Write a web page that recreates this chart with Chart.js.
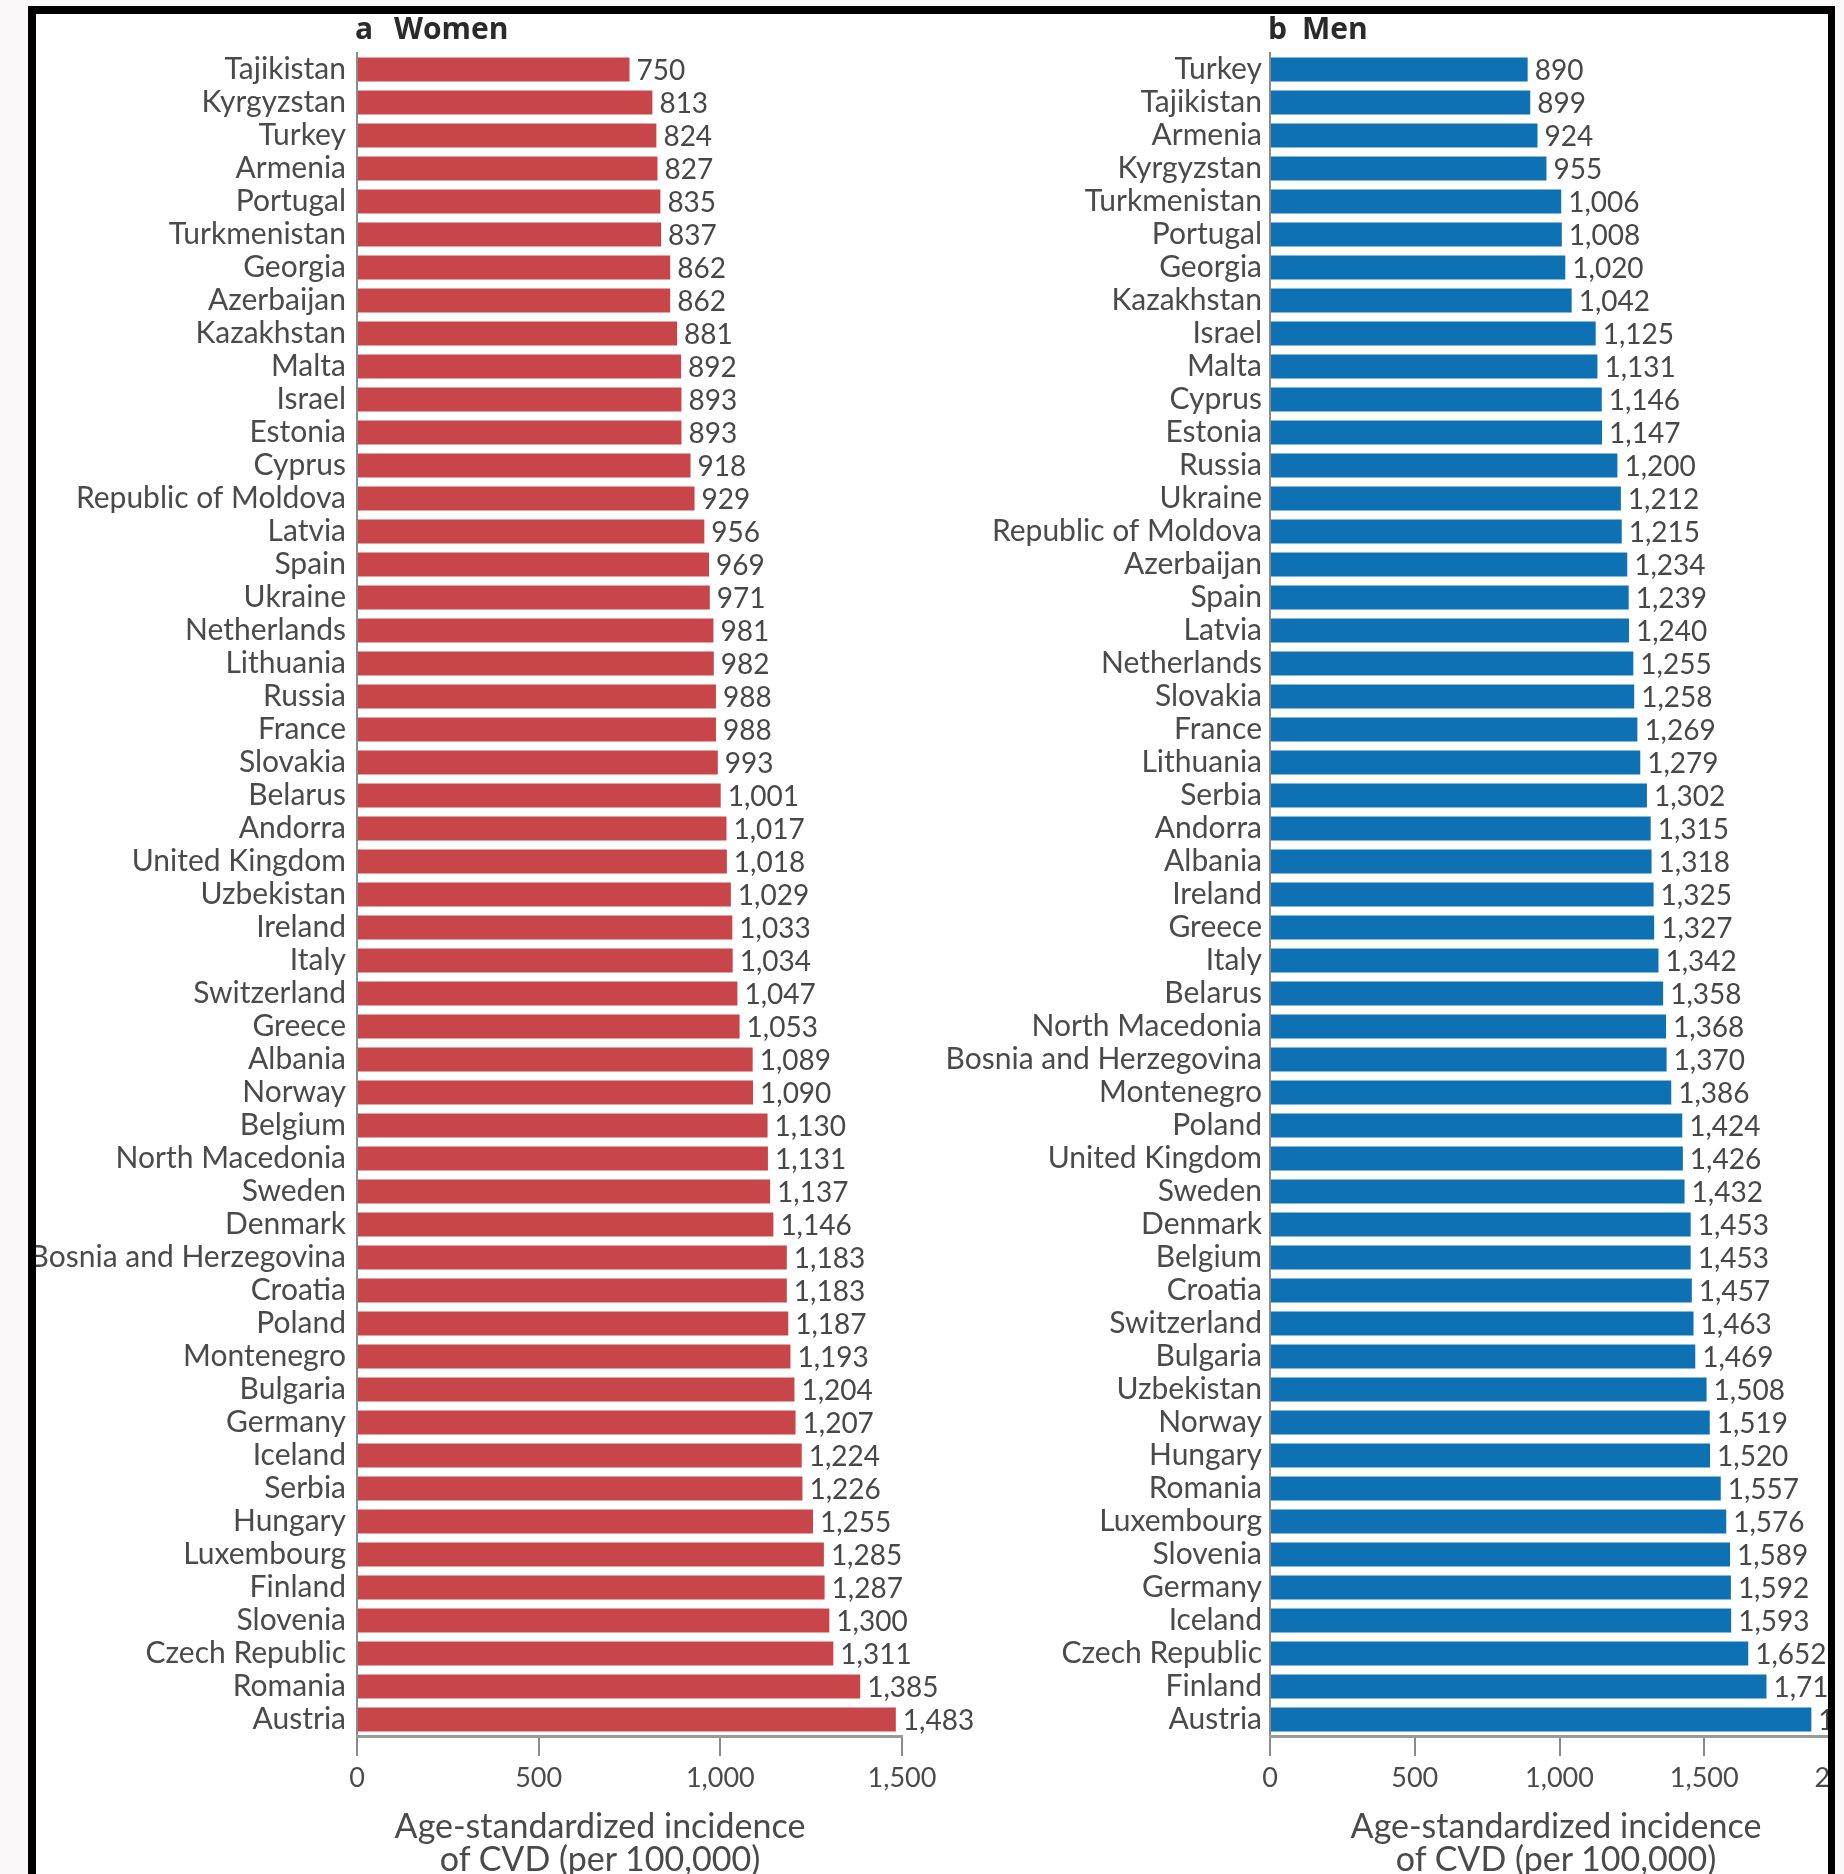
<!DOCTYPE html>
<html><head><meta charset="utf-8">
<script src="https://cdn.jsdelivr.net/npm/chart.js@4.4.1/dist/chart.umd.min.js"></script>
<style>
html,body{margin:0;padding:0;width:1844px;height:1874px;overflow:hidden;background:#fff;}
#wrap{position:relative;width:1844px;height:1874px;overflow:hidden;background:#fff;}
.cbox{position:absolute;top:0;height:1874px;}
.cbox canvas{display:block;}
.mask{position:absolute;background:#fbf8f9;z-index:5}
.fline{position:absolute;background:#000;z-index:6}
.ptitle{position:absolute;font-family:'Open Sans',sans-serif;font-weight:700;font-size:30px;color:#2a2a2a;z-index:4;white-space:pre;line-height:30px;top:13px}
.atitle{position:absolute;font-family:Lato,sans-serif;font-size:34px;color:#4a4a4a;text-align:center;line-height:33px;z-index:4;white-space:nowrap;width:600px;top:1808px}
</style></head>
<body>
<div id="wrap">
  <div class="cbox" style="left:0;width:1040px"><canvas id="cw" width="1040" height="1874"></canvas></div>
  <div class="cbox" style="left:900px;width:1000px"><canvas id="cm" width="1000" height="1874"></canvas></div>
  <div class="ptitle" style="left:355px">a</div>
  <div class="ptitle" style="left:394px">Women</div>
  <div class="ptitle" style="left:1268px">b</div>
  <div class="ptitle" style="left:1302px">Men</div>
  <div class="atitle" style="left:300px">Age-standardized incidence<br>of CVD (per 100,000)</div>
  <div class="atitle" style="left:1256px">Age-standardized incidence<br>of CVD (per 100,000)</div>
  <div class="mask" style="left:0;top:0;width:1844px;height:6px"></div>
  <div class="mask" style="left:0;top:0;width:28px;height:1874px"></div>
  <div class="mask" style="left:1835px;top:0;width:9px;height:1874px"></div>
  <div class="fline" style="left:28px;top:6px;width:1807px;height:8px"></div>
  <div class="fline" style="left:28px;top:6px;width:8px;height:1868px"></div>
  <div class="fline" style="left:1828px;top:6px;width:7px;height:1868px"></div>
</div>
<script>
const womenCountries = ["Tajikistan","Kyrgyzstan","Turkey","Armenia","Portugal","Turkmenistan","Georgia","Azerbaijan","Kazakhstan","Malta","Israel","Estonia","Cyprus","Republic of Moldova","Latvia","Spain","Ukraine","Netherlands","Lithuania","Russia","France","Slovakia","Belarus","Andorra","United Kingdom","Uzbekistan","Ireland","Italy","Switzerland","Greece","Albania","Norway","Belgium","North Macedonia","Sweden","Denmark","Bosnia and Herzegovina","Croatia","Poland","Montenegro","Bulgaria","Germany","Iceland","Serbia","Hungary","Luxembourg","Finland","Slovenia","Czech Republic","Romania","Austria"];
const womenValues = [750,813,824,827,835,837,862,862,881,892,893,893,918,929,956,969,971,981,982,988,988,993,1001,1017,1018,1029,1033,1034,1047,1053,1089,1090,1130,1131,1137,1146,1183,1183,1187,1193,1204,1207,1224,1226,1255,1285,1287,1300,1311,1385,1483];
const menCountries = ["Turkey","Tajikistan","Armenia","Kyrgyzstan","Turkmenistan","Portugal","Georgia","Kazakhstan","Israel","Malta","Cyprus","Estonia","Russia","Ukraine","Republic of Moldova","Azerbaijan","Spain","Latvia","Netherlands","Slovakia","France","Lithuania","Serbia","Andorra","Albania","Ireland","Greece","Italy","Belarus","North Macedonia","Bosnia and Herzegovina","Montenegro","Poland","United Kingdom","Sweden","Denmark","Belgium","Croatia","Switzerland","Bulgaria","Uzbekistan","Norway","Hungary","Romania","Luxembourg","Slovenia","Germany","Iceland","Czech Republic","Finland","Austria"];
const menValues = [890,899,924,955,1006,1008,1020,1042,1125,1131,1146,1147,1200,1212,1215,1234,1239,1240,1255,1258,1269,1279,1302,1315,1318,1325,1327,1342,1358,1368,1370,1386,1424,1426,1432,1453,1453,1457,1463,1469,1508,1519,1520,1557,1576,1589,1592,1593,1652,1715,1870];
const womenAxisMax = 1500;
const menAxisMax = 2000;
const tickStep = 500;

const fmt = v => Number(v).toLocaleString('en-US');

const valueLabels = {
  id: 'valueLabels',
  afterDatasetsDraw(chart) {
    const ctx = chart.ctx;
    const meta = chart.getDatasetMeta(0);
    const data = chart.data.datasets[0].data;
    ctx.save();
    ctx.font = '28px Lato';
    ctx.fillStyle = '#474747';
    ctx.textBaseline = 'middle';
    ctx.textAlign = 'left';
    meta.data.forEach((bar, i) => {
      ctx.fillText(fmt(data[i]), bar.x + 7, bar.y + 1);
    });
    ctx.restore();
  }
};

function makeChart(id, labels, values, color, yWidth, padRight, xMax, labelPad) {
  return new Chart(document.getElementById(id), {
    type: 'bar',
    data: { labels: labels, datasets: [{ data: values, backgroundColor: color, borderWidth: 0, barPercentage: 0.72, categoryPercentage: 1 }] },
    options: {
      indexAxis: 'y', responsive: false, animation: false, maintainAspectRatio: false,
      layout: { padding: { left: 0, right: padRight, top: 53, bottom: 58 } },
      plugins: { legend: { display: false }, tooltip: { enabled: false } },
      scales: {
        y: {
          grid: { drawOnChartArea: false, drawTicks: false },
          border: { display: true, color: '#8a8a8a', width: 2 },
          ticks: { font: { family: 'Lato', size: 30 }, color: '#4a4a4a', padding: labelPad, autoSkip: false },
          afterFit(s) { s.width = yWidth; }
        },
        x: {
          min: 0, max: xMax,
          grid: { drawOnChartArea: false, drawTicks: true, tickLength: 20, color: '#8a8a8a', lineWidth: 2 },
          border: { display: true, color: '#9a9a9a', width: 3 },
          ticks: { stepSize: tickStep, font: { family: 'Lato', size: 27 }, color: '#4a4a4a', padding: 6, callback: v => fmt(v), maxRotation: 0, autoSkip: false },
          afterFit(s) { s.height = 80; }
        }
      }
    },
    plugins: [valueLabels]
  });
}

function draw() {
  makeChart('cw', womenCountries, womenValues, '#c8464a', 357, 138, womenAxisMax, 11);
  makeChart('cm', menCountries, menValues, '#0d71b4', 370, 51, menAxisMax, 8);
}
Promise.all([document.fonts.load('30px Lato'), document.fonts.load('700 30px "Open Sans"')]).then(draw, draw);
</script>
</body></html>
